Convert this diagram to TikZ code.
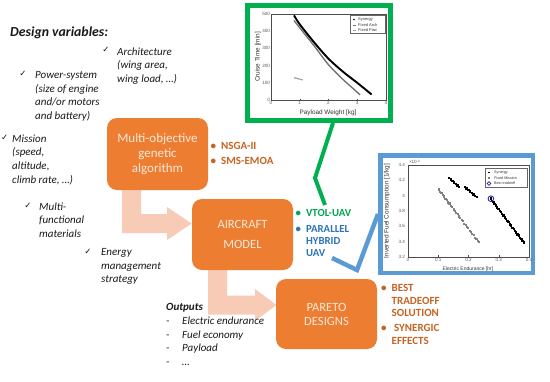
\documentclass[tikz,border=0pt]{standalone}
\usepackage{fontspec}
\setmainfont{Carlito}
\newfontfamily\plotfont{Liberation Sans}
\newfontfamily\symfont{DejaVu Sans}
\usetikzlibrary{calc}
\definecolor{boxorange}{RGB}{237,125,49}
\definecolor{boxtext}{RGB}{252,232,218}
\definecolor{arrowpink}{RGB}{247,203,182}
\definecolor{labelorange}{RGB}{197,100,35}
\definecolor{vtolgreen}{RGB}{0,166,80}
\definecolor{hybridblue}{RGB}{46,117,182}
\definecolor{framegreen}{RGB}{0,176,80}
\definecolor{frameblue}{RGB}{91,155,213}
\definecolor{textdark}{RGB}{25,25,25}
\definecolor{tickgray}{RGB}{90,90,90}
\definecolor{tradeblue}{RGB}{40,40,160}
\begin{document}
\begin{tikzpicture}[x=1pt,y=-1pt,
  orangebox/.style={draw=none, fill=boxorange, rounded corners=10pt, text=boxtext, align=center, inner sep=0pt, minimum width=101pt},
  blockarrow/.style={fill=arrowpink, draw=none},
  vartext/.style={anchor=north west, align=left, inner sep=0pt, text=textdark, font=\fontsize{11}{13.7}\selectfont\itshape},
  checkmark/.style={inner sep=0pt, text=textdark, font=\symfont\fontsize{8.5}{9}\selectfont},
  bulletlist/.style={anchor=north west, inner sep=0pt},
  plotframe/.style={draw=black!70, line width=0.35pt},
  ticklab/.style={inner sep=0.8pt, text=tickgray, font=\plotfont\fontsize{4.6}{5}\selectfont},
  axlab/.style={inner sep=0pt, text=black!80, font=\plotfont\fontsize{6.4}{7}\selectfont},
  legtext/.style={inner sep=0pt, anchor=west, text=black!80, font=\plotfont\fontsize{4}{4.5}\selectfont},
  legbox/.style={draw=black!60, line width=0.3pt, fill=white},
  framebox/.style={fill=white, inner sep=0pt},
  gconn/.style={draw=framegreen, line width=4pt},
  bconn/.style={draw=frameblue, line width=4.5pt}
]
\useasboundingbox (0,0) rectangle (550,381);
\fill[white] (0,0) rectangle (550,381);

% block arrows
\fill[blockarrow] (122,188) -- (141,188) -- (141,214) -- (167,214) -- (167,207) -- (191.5,223.5) -- (167,240) -- (167,233) -- (122,233) -- cycle;
\fill[blockarrow] (208,266) -- (227,266) -- (227,295.5) -- (255,295.5) -- (255,289) -- (276.5,305) -- (255,321) -- (255,314.5) -- (208,314.5) -- cycle;

% orange boxes
\node[orangebox, minimum height=72pt, font=\fontsize{13}{15}\selectfont] (moga) at (157.5,154) {Multi-objective\\genetic\\algorithm};
\node[orangebox, minimum height=71pt, font=\fontsize{12.6}{20}\selectfont] (acm) at (242.5,234.5) {AIRCRAFT\\MODEL};
\node[orangebox, minimum height=70pt, font=\fontsize{12.6}{14}\selectfont] (pareto) at (326.5,314) {PARETO\\DESIGNS};

% heading and design variables
\node[anchor=west, inner sep=0pt, text=textdark, font=\fontsize{13.8}{16}\selectfont\bfseries\itshape] (dv) at (10,33) {Design variables:};
\node[vartext] (arch) at (117,47.3) {Architecture\\(wing area,\\wing load, …)};
\node[vartext] (power) at (35,71.3) {Power-system\\(size of engine\\and/or motors\\and battery)};
\node[vartext] (mission) at (12,134.3) {Mission\\(speed,\\altitude,\\climb rate, …)};
\node[vartext] (multi) at (39,202.3) {Multi-\\functional\\materials};
\node[vartext] (energy) at (101,248.3) {Energy\\management\\strategy};
\node[checkmark] (ck1) at (106,50) {✓};
\node[checkmark] (ck2) at (23,74) {✓};
\node[checkmark, anchor=west] (ck3) at (1,138) {✓};
\node[checkmark] (ck4) at (28,206) {✓};
\node[checkmark] (ck5) at (88,252) {✓};

% outputs
\node[anchor=north west, inner sep=0pt, align=left, text=textdark, font=\fontsize{11}{13.7}\selectfont\itshape] (outs) at (166,303.3)
  {\textbf{Outputs}\\\makebox[16pt][l]{-}Electric endurance\\\makebox[16pt][l]{-}Fuel economy\\\makebox[16pt][l]{-}Payload\\\makebox[16pt][l]{-}…};

% bullet lists
\node[bulletlist, text=labelorange, font=\fontsize{11}{12.5}\selectfont\bfseries] (algs) at (210.5,140.75)
  {\begin{tabular}{@{}l@{\hspace{5pt}}l@{}}•&NSGA-II\\[2.5pt]•&SMS-EMOA\end{tabular}};
\node[bulletlist, font=\fontsize{10.8}{12.2}\selectfont\bfseries] (uavs) at (295.5,207.8)
  {\begin{tabular}{@{}l@{\hspace{5pt}}l@{}}\textcolor{vtolgreen}{•}&\textcolor{vtolgreen}{VTOL-UAV}\\[3.8pt]\textcolor{hybridblue}{•}&\textcolor{hybridblue}{PARALLEL}\\&\textcolor{hybridblue}{HYBRID}\\&\textcolor{hybridblue}{UAV}\end{tabular}};
\node[bulletlist, text=labelorange, font=\fontsize{11}{12.5}\selectfont\bfseries] (results) at (381,282.75)
  {\begin{tabular}{@{}l@{\hspace{5pt}}l@{}}•&BEST\\&TRADEOFF\\&SOLUTION\\[2.5pt]•&\ SYNERGIC\\&EFFECTS\end{tabular}};

% green framed plot
\node[framebox, draw=framegreen, line width=5pt, minimum width=143pt, minimum height=115pt] (gbox) at (319,63) {};
\begin{scope}[shift={(271,100)}, x=28.75pt, y=0.172pt]
  \draw[plotframe] (0,0) rectangle (4,500);
  \foreach \i in {0,...,4} {
    \draw[plotframe] (\i,0) -- ++(0,8);
    \node[ticklab, anchor=north] (gx\i) at (\i,0) {\i};
  }
  \foreach \v in {0,100,...,500} {
    \draw[plotframe] (0,\v) -- ++(0.05,0);
    \node[ticklab, anchor=east] (gy\v) at (0,\v) {\v};
  }
  \draw[black!55, line width=1.4pt] plot[smooth] coordinates {(0.8,462) (1,420) (1.5,315) (2,205) (2.5,120) (2.8,75) (3.1,30)};
  \draw[black, line width=1.9pt] plot[smooth] coordinates {(0.8,492) (1,440) (1.5,335) (2,240) (2.5,165) (3,100) (3.5,32)};
  \draw[black!35, line width=1.3pt] (0.8,130) -- (1.1,117);
\end{scope}
\node[axlab] (gxlab) at (328,113) {Payload Weight [kg]};
\node[axlab, rotate=90] (gylab) at (258,57) {Cruise Time [min]};
\draw[legbox] (350,15) rectangle (385,33);
\fill[black] (354,19.5) circle (0.8pt);
\draw[black!55, line width=0.6pt] (352.5,25) -- (355.5,25);
\draw[black!35, line width=0.6pt] (352.5,30) -- (355.5,30);
\node[legtext] (gl1) at (358,19.5) {Synergy};
\node[legtext] (gl2) at (358,25) {Fixed Arch};
\node[legtext] (gl3) at (358,30) {Fixed Pow};

% blue framed plot
\node[framebox, draw=frameblue, line width=4.5pt, minimum width=152.5pt, minimum height=117.5pt] (bbox) at (456.5,214) {};
\begin{scope}[shift={(408,502.3)}, x=302.5pt, y=76.67pt]
  \draw[plotframe] (0,3.2) rectangle (0.4,4.4);
  \foreach \i/\t in {0/0,0.1/0.1,0.2/0.2,0.3/0.3,0.4/0.4} {
    \draw[plotframe] (\i,3.2) -- ++(0,0.02);
    \node[ticklab, anchor=north] at (\i,3.2) {\t};
  }
  \foreach \v/\t in {3.2/3.2,3.4/3.4,3.6/3.6,3.8/3.8,4/4,4.2/4.2,4.4/4.4} {
    \draw[plotframe] (0,\v) -- ++(0.004,0);
    \node[ticklab, anchor=east, xshift=-2pt] at (0,\v) {\t};
  }
  \foreach \i in {0,...,30} {
    \fill[black!50] ({0.102+0.133*\i/30},{4.08-0.69*\i/30-0.008*mod(\i,2)}) +(-1.1pt,-1.1pt) rectangle +(1.1pt,1.1pt);
  }
  \foreach \i in {0,...,6} {
    \fill[black] ({0.136+0.033*\i/6},{4.23-0.12*\i/6}) +(-1.2pt,-1.2pt) rectangle +(1.2pt,1.2pt);
  }
  \foreach \i in {0,...,7} {
    \fill[black] ({0.188+0.040*\i/7},{4.11-0.13*\i/7}) +(-1.2pt,-1.2pt) rectangle +(1.2pt,1.2pt);
  }
  \foreach \i in {0,...,26} {
    \fill[black] ({0.274+0.109*\i/26},{3.96-0.57*\i/26-0.006*mod(\i,2)}) +(-1.2pt,-1.2pt) rectangle +(1.2pt,1.2pt);
  }
  \draw[tradeblue, line width=0.9pt] (0.274,3.96) circle (2.8pt);
\end{scope}
\node[ticklab, anchor=south west] (bexp) at (408,165) {×10\raisebox{0.6ex}{\fontsize{3.2}{3.5}\selectfont -3}};
\node[axlab, font=\plotfont\fontsize{5}{6}\selectfont] (bxlab) at (468,269) {Electric Endurance [hr]};
\node[axlab, rotate=90] (bylab) at (387,211) {Inverted Fuel Consumption [1/kg]};
\draw[legbox] (485,168) rectangle (527,187);
\fill[black] (489,172.5) +(-0.9pt,-0.9pt) rectangle +(0.9pt,0.9pt);
\fill[black!50] (489,178) +(-0.9pt,-0.9pt) rectangle +(0.9pt,0.9pt);
\draw[tradeblue, line width=0.8pt] (489,183.5) circle (1.9pt);
\node[legtext, font=\plotfont\fontsize{3.7}{4}\selectfont] (bl1) at (494,172.5) {Synergy};
\node[legtext, font=\plotfont\fontsize{3.7}{4}\selectfont] (bl2) at (494,178) {Fixed Mission};
\node[legtext, font=\plotfont\fontsize{3.7}{4}\selectfont] (bl3) at (494,183.5) {Best tradeoff};

% connectors
\coordinate (gbend) at (315,178);
\coordinate (gend) at (325,205);
\draw[gconn] ($(gbox.south)+(14,0)$) -- (gbend) -- (gend);
\coordinate (bbend) at (357,270);
\coordinate (bend) at (332,258);
\draw[bconn] (bbox.west) -- (bbend) -- (bend);
\end{tikzpicture}
\end{document}
